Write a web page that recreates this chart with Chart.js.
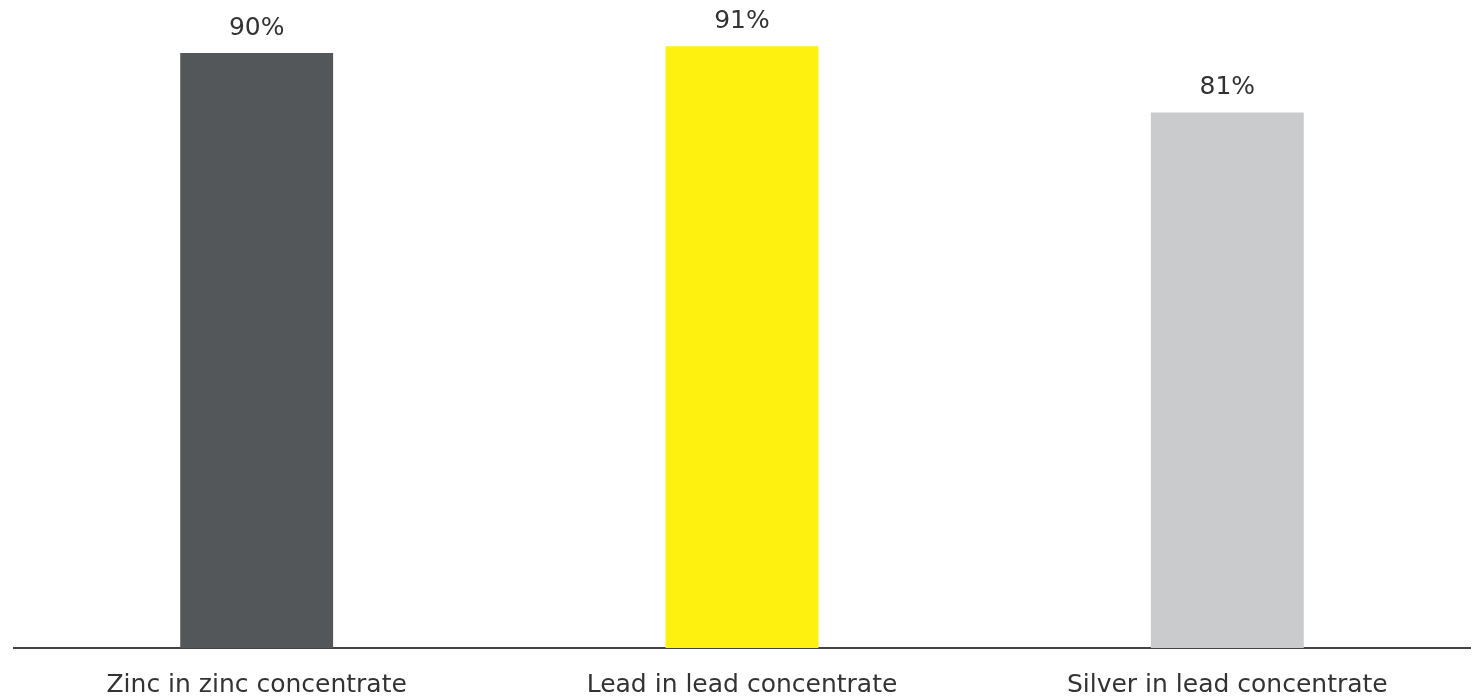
<!DOCTYPE html>
<html>
<head>
<meta charset="utf-8">
<script src="https://cdn.jsdelivr.net/npm/chart.js@4"></script>
<style>
  html, body { margin: 0; padding: 0; background: #fff; }
  #wrap { width: 1478px; height: 697px; }
</style>
</head>
<body>
<div id="wrap"><canvas id="recoveryChart"></canvas></div>
<script>
const categories = ["Zinc in zinc concentrate", "Lead in lead concentrate", "Silver in lead concentrate"];
const recovery = [90, 91, 81];
const barColors = ["#53575a", "#fff10f", "#cacbcd"];

const labelFont = "'DejaVu Sans'";

// percentage labels above each bar
const valueLabels = {
  id: "valueLabels",
  afterDatasetsDraw(chart) {
    const ctx = chart.ctx;
    const meta = chart.getDatasetMeta(0);
    ctx.save();
    ctx.font = "25px " + labelFont;
    ctx.fillStyle = "#333333";
    ctx.textAlign = "center";
    ctx.textBaseline = "alphabetic";
    meta.data.forEach((bar, i) => {
      ctx.fillText(recovery[i] + "%", bar.x, bar.y - 18);
    });
    ctx.restore();
  }
};

new Chart(document.getElementById("recoveryChart"), {
  type: "bar",
  data: {
    labels: categories,
    datasets: [{
      data: recovery,
      backgroundColor: barColors,
      barPercentage: 0.315,
      categoryPercentage: 1
    }]
  },
  options: {
    responsive: true,
    maintainAspectRatio: false,
    animation: false,
    layout: { padding: { left: 14, right: 8, top: 0, bottom: 0 } },
    plugins: {
      legend: { display: false },
      tooltip: { enabled: false }
    },
    scales: {
      x: {
        grid: { display: false, drawTicks: false },
        border: { display: true, color: "#444444", width: 2 },
        ticks: {
          color: "#333333",
          font: { family: labelFont, size: 25 },
          padding: 22,
          maxRotation: 0
        },
        afterFit(scale) { scale.height = 49; }
      },
      y: {
        display: false,
        min: 0,
        max: 98
      }
    }
  },
  plugins: [valueLabels]
});
</script>
</body>
</html>
